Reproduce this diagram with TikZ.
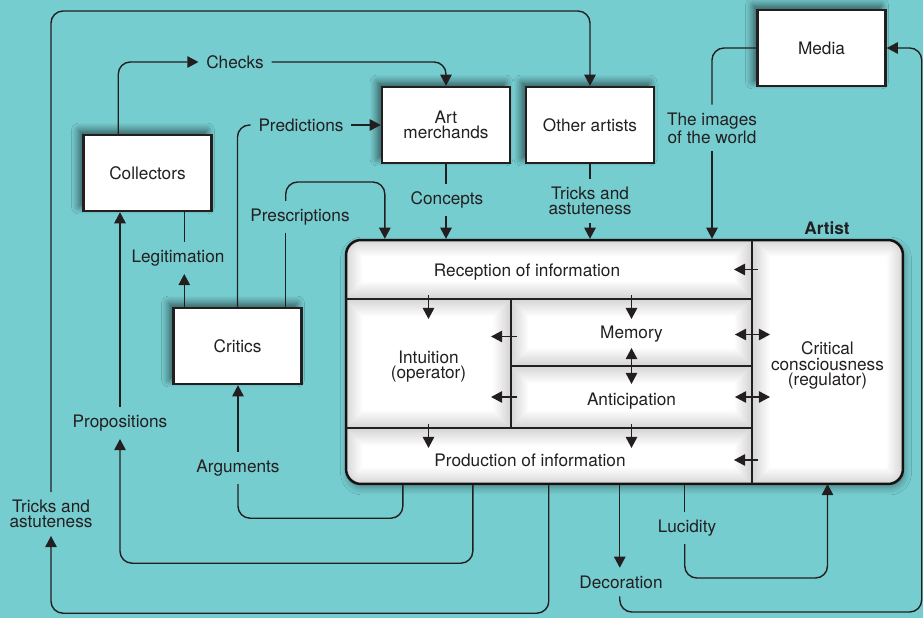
\documentclass[tikz,border=0pt]{standalone}
\usepackage{fontspec}
\setmainfont{TeX Gyre Heros}
\usetikzlibrary{arrows.meta,shadows.blur}
\definecolor{bgteal}{RGB}{118,205,208}
\definecolor{ink}{RGB}{35,31,32}

\begin{document}
\begin{tikzpicture}[x=0.02cm, y=-0.02cm, font=\fontsize{9.8}{8.8}\selectfont, color=ink,
	tri/.style={-{Triangle[length=6.3pt,width=6.5pt]}},
	duotri/.style={{Triangle[length=6.3pt,width=6.5pt]}-{Triangle[length=6.3pt,width=6.5pt]}},
	wire/.style={line width=0.8pt, rounded corners=2.4mm},
	actor/.style={draw, fill=white, line width=1.4pt, minimum width=2.56cm, minimum height=1.52cm, align=center,
		blur shadow={shadow xshift=-.9mm, shadow yshift=.9mm, shadow blur radius=1.5mm, shadow blur steps=8, shadow opacity=60}},
	lbl/.style={inner sep=1.5mm, align=center},
	zone/.style={inner sep=0pt, outer sep=0pt},
	zonetext/.style={align=center, inner sep=0pt},
	divider/.style={line width=1.3pt}]
	\useasboundingbox (0,0) rectangle (923,618);
	\fill[bgteal] (0,0) rectangle (923,618);

	\node[actor] (coll) at (147.5,173) {Collectors};
	\node[actor] (crit) at (237.5,346) {Critics};
	\node[actor] (merch) at (446,125) {Art\\merchands};
	\node[actor] (other) at (590,125) {Other artists};
	\node[actor] (media) at (821.5,48) {Media};

	\node[zone, minimum width=8.12cm, minimum height=1.18cm] (recep) at (549,269.5) {};
	\node[zone, minimum width=3.3cm, minimum height=2.58cm] (intu) at (428.5,363.5) {};
	\node[zone, minimum width=4.82cm, minimum height=1.34cm] (memo) at (631.5,332.5) {};
	\node[zone, minimum width=4.82cm, minimum height=1.24cm] (antic) at (631.5,397) {};
	\node[zone, minimum width=8.12cm, minimum height=1.12cm] (prod) at (549,456) {};
	\node[zone, minimum width=3.02cm, minimum height=4.88cm] (critc) at (827.5,362) {};

	\node[draw, fill=white, line width=1.4pt, rounded corners=3mm, minimum width=11.14cm, minimum height=4.88cm,
		blur shadow={shadow xshift=.3mm, shadow yshift=-.8mm, shadow blur radius=1.4mm, shadow blur steps=8, shadow opacity=35}] (artist) at (624.5,362) {};
	\node[font=\fontsize{9.8}{8.8}\selectfont\bfseries] (artistname) at (827,228) {Artist};

	% soft shading along the inner walls
	\begin{scope}
		\clip[rounded corners=3mm] (artist.north west) rectangle (artist.south east);
		\foreach \w in {1mm,1.5mm,...,7mm}
			\draw[black, opacity=.013, line width=\w] (critc.north west) -- (critc.south west)
				(recep.south west) -- (recep.south east) (prod.north west) -- (prod.north east)
				(intu.north east) -- (intu.south east) (memo.south west) -- (memo.south east)
				[rounded corners=3mm] (artist.north west) rectangle (artist.south east);
	\end{scope}

	\draw[divider] (critc.north west) -- (critc.south west);
	\draw[divider] (recep.south west) -- (recep.south east);
	\draw[divider] (prod.north west) -- (prod.north east);
	\draw[divider] (intu.north east) -- (intu.south east);
	\draw[divider] (memo.south west) -- (memo.south east);

	\node[zonetext] (receptxt) at ([xshift=-4.4mm,yshift=-.6mm]recep.center) {Reception of information};
	\node[zonetext] (intutxt) at ([yshift=-.6mm]intu.center) {Intuition\\(operator)};
	\node[zonetext] (memotxt) at ([yshift=-.4mm]memo.center) {Memory};
	\node[zonetext] (antictxt) at ([yshift=-.8mm]antic.center) {Anticipation};
	\node[zonetext] (prodtxt) at ([xshift=-3.8mm,yshift=-.9mm]prod.center) {Production of information};
	\node[zonetext] (critctxt) at ([yshift=-.7mm]critc.center) {Critical\\consciousness\\(regulator)};

	\draw[wire, tri] ([yshift=.8mm]intu.north) -- ++(0,24);
	\draw[wire, tri] ([yshift=.8mm]memo.north) -- ++(0,24);
	\draw[wire, tri] ([yshift=.8mm]intu.south) -- ++(0,24);
	\draw[wire, tri] ([yshift=.8mm]antic.south) -- ++(0,24);
	\draw[wire, tri] ([xshift=1.2mm]recep.east) -- ++(-24,0);
	\draw[wire, tri] ([xshift=1.2mm,yshift=-.8mm]prod.east) -- ++(-24,0);
	\draw[wire, duotri] ([xshift=-3.4mm,yshift=-.4mm]memo.east) -- ++(35,0);
	\draw[wire, duotri] ([xshift=-3.4mm]antic.east) -- ++(35,0);
	\draw[wire, tri] ([xshift=1.2mm,yshift=-.8mm]memo.west) -- ++(-26,0);
	\draw[wire, tri] ([xshift=1.2mm]antic.west) -- ++(-26,0);
	\draw[wire, duotri] ([yshift=3.6mm]memo.south) -- ++(0,36);

	\coordinate (cl) at ([xshift=7.2mm]coll.north west);
	\node[lbl] (chk) at (235,62) {Checks};
	\draw[wire, tri] (cl) |- (chk.west);
	\draw[wire, tri] (chk.east) -| (merch.north);

	\node[lbl] (prd) at (301,125) {Predictions};
	\draw[wire] (crit.north) |- (prd.west);
	\draw[wire, tri] (prd.east) -- (prd.east -| merch.west);

	\coordinate (ps) at ([xshift=-3.4mm]crit.north east);
	\coordinate (apx) at ([xshift=8mm]artist.north west);
	\node[lbl] (psc) at (300,217) {Prescriptions};
	\draw[wire] (ps) -- (ps |- psc.south);
	\draw[wire, tri] (ps |- psc.north) -- ++(0,-19) -| (apx);

	\coordinate (lg) at ([xshift=2.4mm]crit.north west);
	\node[lbl] (lgt) at (178,258) {Legitimation};
	\draw[wire, tri] (lg) -- (lg |- lgt.south);
	\draw[wire] (lg |- lgt.north) -- (lg |- coll.south);

	\node[lbl] (cpt) at (447,200) {Concepts};
	\draw[wire] (merch.south) -- (merch.south |- cpt.north);
	\draw[wire, tri] (merch.south |- cpt.south) -- (merch.south |- artist.north);

	\node[lbl] (tr1) at (590,201) {Tricks and\\astuteness};
	\draw[wire] (other.south) -- (tr1.north);
	\draw[wire, tri] (tr1.south) -- (tr1.south |- artist.north);

	\node[lbl] (img) at (712,128) {The images\\of the world};
	\draw[wire] (media.west) -| (img.north);
	\draw[wire, tri] (img.south) -- (img.south |- artist.north);

	\node[lbl] (tr2) at (51,514) {Tricks and\\astuteness};
	\draw[wire, tri] (tr2.north) -- ++(0,-481) -| (other.north);

	\coordinate (ab1) at ([xshift=11.6mm]artist.south west);
	\coordinate (ab2) at ([xshift=25.6mm]artist.south west);
	\coordinate (ab3) at ([xshift=40.8mm]artist.south west);
	\coordinate (ab4) at ([xshift=55mm]artist.south west);
	\coordinate (ab5) at ([xshift=68mm]artist.south west);

	\node[lbl] (arg) at (238,468) {Arguments};
	\draw[wire] (ab1) -- ++(0,33) -| (arg.south);
	\draw[wire, tri] (arg.north) -- (arg.north |- crit.south);

	\node[lbl] (prp) at (120,423) {Propositions};
	\draw[wire, tri] (ab2) -- ++(0,78) -| (prp.south);
	\draw[wire, tri] (prp.north) -- (prp.north |- coll.south);

	\draw[wire, tri] (ab3) -- ++(0,128) -| (tr2.south);

	\node[lbl] (dec) at (621,582) {Decoration};
	\coordinate (rx) at ([xshift=7mm]media.east);
	\draw[wire, tri] (ab4) -- (ab4 |- dec.north);
	\draw[wire, tri] (ab4 |- dec.south) -- (ab4 |- 0,612) -| (rx) -- (media.east);

	\node[lbl] (luc) at (687,528) {Lucidity};
	\draw[wire] (ab5) -- (ab5 |- luc.north);
	\draw[wire, tri] (ab5 |- luc.south) -- ++(0,34) -| (critc.south);
\end{tikzpicture}
\end{document}
